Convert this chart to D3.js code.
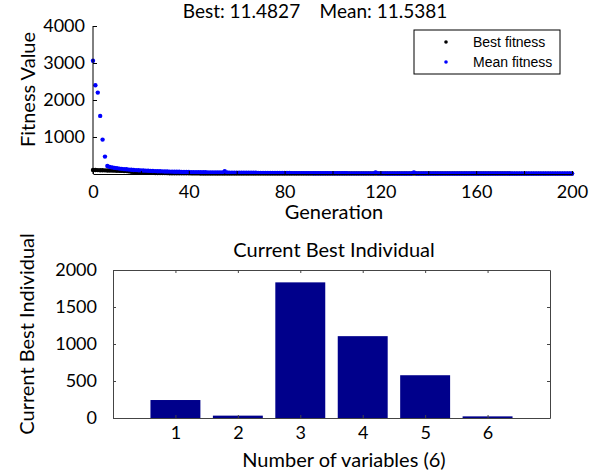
<!DOCTYPE html>
<html>
<head>
<meta charset="utf-8">
<script src="https://cdn.jsdelivr.net/npm/d3@7"></script>
<style>
  body { margin: 0; background: #fff; }
  svg { display: block; }
  text { font-family: Lato, "Open Sans", sans-serif; fill: #000; }
</style>
</head>
<body>
<div id="chart"></div>
<script>
// ---- data ----
const titleBest = "11.4827";
const titleMean = "11.5381";

// fitness per generation 0..200
const meanFitness = [
  3060, 2400, 2200, 1570, 930, 470, 215, 192, 178, 165,
  158, 146, 139, 131, 127, 119, 114, 109, 105, 101,
  97, 93, 90, 86, 84, 81, 78, 76, 73, 71,
  69, 67, 65, 64, 62, 60, 59, 57, 56, 55,
  53, 52, 51, 50, 49, 48, 47, 46, 45, 44,
  43, 42, 42, 41, 40, 75, 39, 38, 37, 37,
  36, 35, 35, 34, 34, 33, 33, 32, 32, 31,
  31, 30, 30, 29, 29, 28, 28, 28, 27, 27,
  26, 26, 26, 25, 25, 25, 24, 24, 24, 23,
  23, 23, 22, 22, 22, 21, 21, 21, 21, 20,
  20, 20, 20, 19, 19, 19, 19, 18, 18, 18,
  18, 18, 17, 17, 17, 17, 17, 16, 45, 16,
  16, 16, 16, 15, 15, 15, 15, 15, 15, 15,
  14, 14, 14, 14, 40, 14, 14, 14, 13.8, 13.7,
  13.6, 13.5, 13.4, 13.3, 13.2, 13.1, 13.0, 12.9, 12.9, 12.8,
  12.7, 12.7, 12.6, 12.5, 12.5, 12.4, 12.4, 12.3, 12.3, 12.2,
  12.2, 12.1, 12.1, 12.0, 12.0, 12.0, 11.9, 11.9, 11.9, 11.8,
  11.8, 11.8, 11.8, 11.7, 11.7, 11.7, 11.7, 11.7, 11.6, 11.6,
  11.6, 11.6, 11.6, 11.6, 11.6, 11.6, 11.6, 11.6, 11.55, 11.55,
  11.55, 11.55, 11.55, 11.55, 11.55, 11.54, 11.54, 11.54, 11.54, 11.54,
  11.5381
];
const bestFitness = [
  110, 108, 105, 103, 100, 98, 96, 94, 92, 90,
  88, 86, 84, 82, 80, 70, 62, 55, 50, 46,
  42, 39, 36, 34, 32, 30, 29, 27, 26, 25,
  24, 23, 22, 21, 20, 19.5, 19, 18.5, 18, 17.5,
  17, 16.7, 16.4, 16.1, 15.8, 15.5, 15.2, 15, 14.8, 14.6,
  14.4, 14.2, 14, 13.9, 13.8, 13.7, 13.6, 13.5, 13.4, 13.3,
  13.2, 13.1, 13, 12.9, 12.9, 12.8, 12.8, 12.7, 12.7, 12.6,
  12.6, 12.5, 12.5, 12.4, 12.4, 12.3, 12.3, 12.3, 12.2, 12.2,
  12.2, 12.1, 12.1, 12.1, 12.0, 12.0, 12.0, 11.9, 11.9, 11.9,
  11.9, 11.8, 11.8, 11.8, 11.8, 11.8, 11.7, 11.7, 11.7, 11.7,
  11.69, 11.68, 11.67, 11.66, 11.65, 11.64, 11.63, 11.62, 11.61, 11.60,
  11.60, 11.59, 11.59, 11.58, 11.58, 11.57, 11.57, 11.56, 11.56, 11.55,
  11.55, 11.55, 11.54, 11.54, 11.54, 11.53, 11.53, 11.53, 11.53, 11.52,
  11.52, 11.52, 11.52, 11.52, 11.51, 11.51, 11.51, 11.51, 11.51, 11.51,
  11.50, 11.50, 11.50, 11.50, 11.50, 11.50, 11.50, 11.50, 11.50, 11.50,
  11.50, 11.50, 11.50, 11.49, 11.49, 11.49, 11.49, 11.49, 11.49, 11.49,
  11.49, 11.49, 11.49, 11.49, 11.49, 11.49, 11.49, 11.49, 11.49, 11.49,
  11.49, 11.49, 11.49, 11.49, 11.49, 11.4827, 11.4827, 11.4827, 11.4827, 11.4827,
  11.4827, 11.4827, 11.4827, 11.4827, 11.4827, 11.4827, 11.4827, 11.4827, 11.4827, 11.4827,
  11.4827, 11.4827, 11.4827, 11.4827, 11.4827, 11.4827, 11.4827, 11.4827, 11.4827, 11.4827,
  11.4827
];
const fitnessTicks = [1000, 2000, 3000, 4000];
const generationTicks = [0, 20, 40, 60, 80, 100, 120, 140, 160, 180, 200];

// current best individual
const variables = [1, 2, 3, 4, 5, 6];
const individualValues = [243, 32, 1833, 1106, 578, 22];
const individualTicks = [0, 500, 1000, 1500, 2000];

const W = 596, H = 475;
const svg = d3.select("#chart").append("svg")
  .attr("width", W)
  .attr("height", H);

// ================= top plot: fitness =================
const topBox = {left: 93, right: 572, top: 26, bottom: 174};

const x1 = d3.scaleLinear().domain([0, 200]).range([topBox.left, topBox.right]);
const y1 = d3.scaleLinear().domain([0, 4000]).range([topBox.bottom, topBox.top]);

const gens = d3.range(meanFitness.length);

// best first, mean drawn over it
svg.append("g")
  .selectAll("circle")
  .data(gens)
  .join("circle")
    .attr("cx", d => x1(d))
    .attr("cy", d => y1(bestFitness[d]))
    .attr("r", 2.2)
    .attr("fill", "#000");

svg.append("g")
  .selectAll("circle")
  .data(gens)
  .join("circle")
    .attr("cx", d => x1(d))
    .attr("cy", d => y1(meanFitness[d]))
    .attr("r", 2.2)
    .attr("fill", "#0000ff");

// axes (inward ticks, no box)
const xAxis1 = svg.append("g")
  .attr("transform", `translate(0,${topBox.bottom})`)
  .call(d3.axisBottom(x1).tickValues(generationTicks)
    .tickFormat(d => d % 40 === 0 ? String(d) : "")
    .tickSizeInner(-3).tickSizeOuter(0).tickPadding(11));

const yAxis1 = svg.append("g")
  .attr("transform", `translate(${topBox.left},0)`)
  .call(d3.axisLeft(y1).tickValues(fitnessTicks).tickFormat(d3.format("d"))
    .tickSizeInner(-4).tickSizeOuter(0).tickPadding(8));

[xAxis1, yAxis1].forEach(a => {
  a.select(".domain").attr("stroke", "#000");
  a.selectAll(".tick line").attr("stroke", "#000");
  a.selectAll("text").style("font-size", "18px").style("font-family", "Lato");
});
// y axis line reaches the top tick
yAxis1.select(".domain").attr("d", `M0,${topBox.bottom}V${topBox.top}`);

svg.append("text")
  .attr("x", 315)
  .attr("y", 18)
  .attr("text-anchor", "middle")
  .style("font-size", "19px")
  .style("white-space", "pre")
  .text(`Best: ${titleBest}    Mean: ${titleMean}`);

svg.append("text")
  .attr("x", 334)
  .attr("y", 219)
  .attr("text-anchor", "middle")
  .style("font-size", "20px")
  .text("Generation");

svg.append("text")
  .attr("transform", `translate(28,${(32 + 147) / 2}) rotate(-90)`)
  .attr("text-anchor", "middle")
  .attr("dy", "0.35em")
  .style("font-size", "20px")
  .text("Fitness Value");

// legend
const legend = svg.append("g").attr("transform", "translate(414,30)");
legend.append("rect")
  .attr("width", 146)
  .attr("height", 44)
  .attr("fill", "#fff")
  .attr("stroke", "#000")
  .attr("stroke-width", 1);
const legendItems = [
  {label: "Best fitness", color: "#000"},
  {label: "Mean fitness", color: "#0000ff"}
];
const legendRow = legend.selectAll(".legend-item")
  .data(legendItems)
  .join("g")
    .attr("class", "legend-item")
    .attr("transform", (d, i) => `translate(0,${12 + i * 20})`);
legendRow.append("circle")
  .attr("cx", 32)
  .attr("cy", 0)
  .attr("r", 1.8)
  .attr("fill", d => d.color);
legendRow.append("text")
  .attr("x", 59)
  .attr("y", 0)
  .attr("dy", "0.35em")
  .style("font-family", "'Liberation Sans', Arial, sans-serif")
  .style("font-size", "14px")
  .text(d => d.label);

// ================= bottom plot: current best individual =================
const botBox = {left: 113, right: 550, top: 270, bottom: 418};

const x2 = d3.scaleLinear().domain([0, variables.length + 1]).range([botBox.left, botBox.right]);
const y2 = d3.scaleLinear().domain([0, 2000]).range([botBox.bottom, botBox.top]);
const barW = 0.8;

svg.append("g")
  .selectAll("rect")
  .data(variables)
  .join("rect")
    .attr("x", (d, i) => x2(d - barW / 2))
    .attr("y", (d, i) => y2(individualValues[i]))
    .attr("width", (d, i) => x2(barW) - x2(0))
    .attr("height", (d, i) => y2(0) - y2(individualValues[i]))
    .attr("fill", "#00008b");

const boxColor = "#444";
const xAxis2 = svg.append("g")
  .attr("transform", `translate(0,${botBox.bottom})`)
  .call(d3.axisBottom(x2).tickValues(variables).tickFormat(d3.format("d"))
    .tickSizeInner(-3).tickSizeOuter(0).tickPadding(8));
const xAxis2Top = svg.append("g")
  .attr("transform", `translate(0,${botBox.top})`)
  .call(d3.axisTop(x2).tickValues(variables).tickFormat("")
    .tickSizeInner(-3).tickSizeOuter(0));
const yAxis2 = svg.append("g")
  .attr("transform", `translate(${botBox.left},0)`)
  .call(d3.axisLeft(y2).tickValues(individualTicks).tickFormat(d3.format("d"))
    .tickSizeInner(-3).tickSizeOuter(0).tickPadding(16));
const yAxis2Right = svg.append("g")
  .attr("transform", `translate(${botBox.right},0)`)
  .call(d3.axisRight(y2).tickValues(individualTicks).tickFormat("")
    .tickSizeInner(-3).tickSizeOuter(0));

[xAxis2, xAxis2Top, yAxis2, yAxis2Right].forEach(a => {
  a.select(".domain").attr("stroke", boxColor);
  a.selectAll(".tick line").attr("stroke", boxColor);
  a.selectAll("text").style("font-size", "18px").style("font-family", "Lato");
});

svg.append("text")
  .attr("x", 334)
  .attr("y", 257)
  .attr("text-anchor", "middle")
  .style("font-size", "20px")
  .text("Current Best Individual");

svg.append("text")
  .attr("x", 344)
  .attr("y", 467)
  .attr("text-anchor", "middle")
  .style("font-size", "20px")
  .text(`Number of variables (${variables.length})`);

svg.append("text")
  .attr("transform", `translate(27,334) rotate(-90)`)
  .attr("text-anchor", "middle")
  .attr("dy", "0.35em")
  .style("font-size", "20px")
  .text("Current Best Individual");
</script>
</body>
</html>
